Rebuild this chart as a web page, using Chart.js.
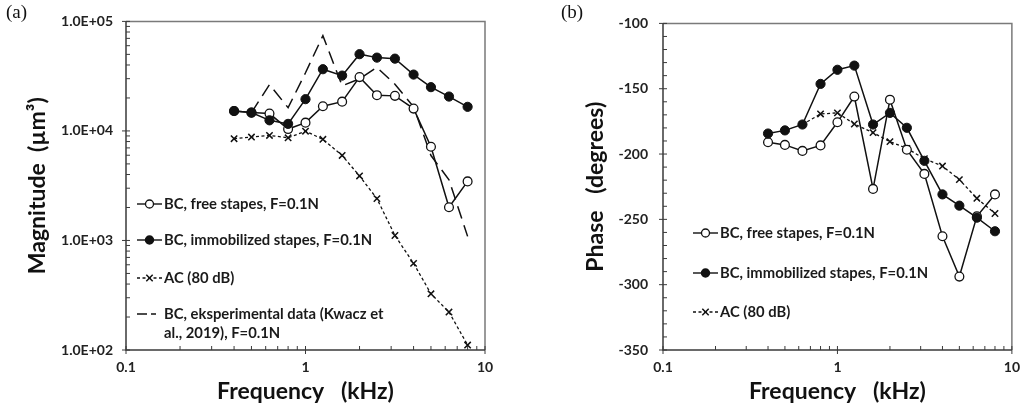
<!DOCTYPE html>
<html><head><meta charset="utf-8">
<script src="https://cdn.jsdelivr.net/npm/chart.js@4.4.1/dist/chart.umd.min.js"></script>
<style>
body{margin:0;background:#fff;width:1029px;height:412px;overflow:hidden;position:relative;}
canvas{position:absolute;top:0}
#ca{left:0}
#cb{left:510px}
.lab{position:absolute;font-family:'Liberation Serif';font-size:19px;top:1px;color:#111}
</style></head><body>
<canvas id="ca" width="510" height="412"></canvas>
<canvas id="cb" width="519" height="412"></canvas>
<div class="lab" style="left:6px">(a)</div>
<div class="lab" style="left:561px">(b)</div>
<script>
// ---------- data ----------
const freq = [0.4, 0.5, 0.63, 0.8, 1.0, 1.25, 1.6, 2.0, 2.5, 3.15, 4.0, 5.0, 6.3, 8.0];
const magFree  = [15200, 14700, 14400, 10400, 11900, 16800, 18500, 31000, 21200, 20900, 16000, 7170, 2010, 3460];
const magImmob = [15200, 14700, 12500, 11600, 19500, 36600, 32000, 50200, 46700, 45700, 32700, 25100, 20600, 16600];
const magAC    = [8490, 8790, 9100, 8660, 9940, 8390, 5970, 3880, 2410, 1110, 618, 326, 222, 111];
const expFreq  = [0.5, 0.63, 0.8, 1.0, 1.25, 1.6, 2.0, 2.5, 3.15, 4.0, 5.0, 6.3, 8.0];
const magExp   = [14700, 26500, 16300, 34000, 74100, 25800, 29900, 38000, 26700, 16600, 5960, 3580, 1090];

const phaseFree  = [-191, -193, -197.6, -193.4, -175.7, -156, -226.7, -158.4, -196.7, -215.2, -262.9, -293.8, -247.7, -230.9];
const phaseImmob = [-184.3, -181.9, -177.4, -146.3, -135.5, -132.3, -177.4, -168.5, -179.9, -205.2, -230.9, -239.5, -248.7, -259.1];
const acPhaseFreq = [0.63, 0.8, 1.0, 1.25, 1.6, 2.0, 2.5, 3.15, 4.0, 5.0, 6.3, 8.0];
const phaseAC    = [-177.4, -169.3, -168.5, -177, -183.6, -190.5, -195.7, -203.6, -209.2, -219.6, -233.9, -245.5];

const magTicks = [100, 1000, 10000, 100000];
const magTickLabels = ['1.0E+02', '1.0E+03', '1.0E+04', '1.0E+05'];
const freqTicks = [0.1, 1, 10];
const freqTickLabels = ['0.1', '1', '10'];
const phaseTicks = [-350, -300, -250, -200, -150, -100];

const labelFree = 'BC, free stapes, F=0.1N';
const labelImmob = 'BC, immobilized stapes, F=0.1N';
const labelAC = 'AC (80 dB)';
const labelExp = ['BC, eksperimental data (Kwacz et', 'al., 2019), F=0.1N'];

// ---------- helpers ----------
const pts = (xs, ys) => xs.map((x, i) => ({x, y: ys[i]}));
const INK = '#111';
const tickFont = {family: 'Lato', weight: 'bold', size: 14};
const titleFont = {family: 'Lato', weight: 'bold', size: 23};

function logMinor(min, max) {
  const out = [];
  for (let d = min; d < max; d *= 10) for (let k = 2; k <= 9; k++) out.push(d * k);
  return out;
}

function styleFor(kind) {
  const base = {borderColor: INK, borderWidth: 1.5, tension: 0, fill: false, pointHoverRadius: 0};
  if (kind === 'filled') return {...base, pointStyle: 'circle', pointRadius: 4.6, pointBackgroundColor: INK, pointBorderColor: INK, pointBorderWidth: 1};
  if (kind === 'open') return {...base, pointStyle: 'circle', pointRadius: 4.4, pointBackgroundColor: '#fff', pointBorderColor: INK, pointBorderWidth: 1.3};
  if (kind === 'cross') return {...base, borderWidth: 1.3, borderDash: [3, 2.5], pointStyle: 'crossRot', pointRadius: 4.5, pointBorderColor: INK, pointBorderWidth: 1.5};
  return {...base, borderDash: [13, 7], pointRadius: 0};
}

function drawMarker(ctx, kind, x, y) {
  ctx.save();
  ctx.setLineDash([]);
  ctx.strokeStyle = INK; ctx.fillStyle = INK;
  if (kind === 'filled' || kind === 'open') {
    ctx.beginPath(); ctx.arc(x, y, 4, 0, Math.PI * 2);
    if (kind === 'open') { ctx.fillStyle = '#fff'; ctx.lineWidth = 1.3; }
    ctx.fill(); ctx.stroke();
  } else if (kind === 'cross') {
    const r = 3.2; ctx.lineWidth = 1.5;
    ctx.beginPath(); ctx.moveTo(x - r, y - r); ctx.lineTo(x + r, y + r);
    ctx.moveTo(x - r, y + r); ctx.lineTo(x + r, y - r); ctx.stroke();
  }
  ctx.restore();
}

const framePlugin = {
  id: 'frame',
  beforeDatasetsDraw(chart, args, o) {
    const {ctx, chartArea: {left, right, top, bottom}} = chart;
    const xs = chart.scales.x, ys = chart.scales.y;
    ctx.save();
    ctx.lineWidth = 1.5;
    ctx.strokeStyle = '#7a7a7a';
    ctx.beginPath(); ctx.moveTo(left, top); ctx.lineTo(right, top); ctx.lineTo(right, bottom); ctx.stroke();
    ctx.strokeStyle = '#3a3a3a';
    ctx.beginPath(); ctx.moveTo(left, top); ctx.lineTo(left, bottom); ctx.lineTo(right, bottom); ctx.stroke();
    ctx.lineWidth = 1;
    const seg = (a, b, c, d) => { ctx.beginPath(); ctx.moveTo(a, b); ctx.lineTo(c, d); ctx.stroke(); };
    o.xMajor.forEach(v => { const p = xs.getPixelForValue(v); seg(p, bottom - 4, p, bottom + 4); });
    o.xMinor.forEach(v => { const p = xs.getPixelForValue(v); seg(p, bottom - 4, p, bottom); });
    o.yMajor.forEach(v => { const p = ys.getPixelForValue(v); seg(left - 4, p, left + 4, p); });
    o.yMinor.forEach(v => { const p = ys.getPixelForValue(v); seg(left, p, left + 4, p); });
    ctx.restore();
  },
  afterDatasetsDraw(chart, args, o) {
    const {ctx} = chart;
    ctx.save();
    ctx.font = 'bold 14.8px Lato';
    ctx.fillStyle = '#1a1a1a';
    ctx.textBaseline = 'middle';
    o.legend.forEach(it => {
      const x0 = o.legendX, x1 = o.legendX + 25, y = it.y;
      ctx.strokeStyle = INK; ctx.lineWidth = 1.4;
      if (it.kind === 'cross') ctx.setLineDash([3, 2.5]);
      else if (it.kind === 'dash') ctx.setLineDash([10, 4, 5, 40]);
      else ctx.setLineDash([]);
      ctx.beginPath(); ctx.moveTo(x0, y); ctx.lineTo(x1, y); ctx.stroke();
      ctx.setLineDash([]);
      drawMarker(ctx, it.kind, (x0 + x1) / 2, y);
      const lines = Array.isArray(it.text) ? it.text : [it.text];
      lines.forEach((t, i) => ctx.fillText(t, x1 + 2, y + i * 19));
    });
    ctx.restore();
  }
};

function makeChart(id, cfg) {
  return new Chart(document.getElementById(id), {
    type: 'line',
    data: {datasets: cfg.datasets},
    plugins: [framePlugin],
    options: {
      responsive: false, animation: false, events: [],
      layout: {padding: {left: 0, top: 12, right: cfg.padRight, bottom: 0}},
      plugins: {legend: {display: false}, tooltip: {enabled: false}, frame: cfg.frame},
      scales: {
        x: {
          type: 'logarithmic', min: 0.1, max: 10,
          grid: {display: false, drawTicks: false}, border: {display: false},
          afterBuildTicks: s => { s.ticks = freqTicks.map(v => ({value: v})); },
          afterFit: s => { s.height = 62; },
          ticks: {font: tickFont, color: '#222', padding: 9, maxRotation: 0, autoSkip: false,
                  callback: v => freqTickLabels[freqTicks.indexOf(v)]},
          title: {display: true, text: 'Frequency   (kHz)', font: titleFont, color: INK, padding: {top: 0, bottom: 7}}
        },
        y: cfg.y
      }
    }
  });
}

// ---------- panel (a) ----------
makeChart('ca', {
  padRight: 25,
  datasets: [
    {label: labelImmob, data: pts(freq, magImmob), ...styleFor('filled')},
    {label: labelFree, data: pts(freq, magFree), ...styleFor('open')},
    {label: labelAC, data: pts(freq, magAC), ...styleFor('cross')},
    {label: labelExp.join(' '), data: pts(expFreq, magExp), ...styleFor('dash')}
  ],
  y: {
    type: 'logarithmic', min: 100, max: 100000,
    grid: {display: false, drawTicks: false}, border: {display: false},
    afterBuildTicks: s => { s.ticks = magTicks.map(v => ({value: v})); },
    afterFit: s => { s.width = 126; },
    ticks: {font: tickFont, color: '#222', padding: 13, autoSkip: false,
            callback: v => magTickLabels[magTicks.indexOf(v)]},
    title: {display: true, text: 'Magnitude  (\u00b5m\u00b3)', font: titleFont, color: INK, padding: {top: 24, bottom: 0}}
  },
  frame: {
    xMajor: freqTicks, xMinor: logMinor(0.1, 10),
    yMajor: magTicks, yMinor: logMinor(100, 100000),
    legendX: 137,
    legend: [
      {kind: 'open', text: labelFree, y: 204},
      {kind: 'filled', text: labelImmob, y: 240},
      {kind: 'cross', text: labelAC, y: 278},
      {kind: 'dash', text: labelExp, y: 314}
    ]
  }
});

// ---------- panel (b) ----------
const phaseMinor = [];
for (let v = -340; v < -100; v += 10) if (v % 50 !== 0) phaseMinor.push(v);

makeChart('cb', {
  padRight: 11,
  datasets: [
    {label: labelImmob, data: pts(freq, phaseImmob), ...styleFor('filled')},
    {label: labelFree, data: pts(freq, phaseFree), ...styleFor('open')},
    {label: labelAC, data: pts(acPhaseFreq, phaseAC), ...styleFor('cross')}
  ],
  y: {
    type: 'linear', min: -350, max: -100,
    grid: {display: false, drawTicks: false}, border: {display: false},
    afterBuildTicks: s => { s.ticks = phaseTicks.map(v => ({value: v})); },
    afterFit: s => { s.width = 153; },
    ticks: {font: tickFont, color: '#222', padding: 15, autoSkip: false},
    title: {display: true, text: 'Phase   (degrees)', font: titleFont, color: INK, padding: {top: 72, bottom: 0}}
  },
  frame: {
    xMajor: freqTicks, xMinor: logMinor(0.1, 10),
    yMajor: phaseTicks, yMinor: phaseMinor,
    legendX: 183,
    legend: [
      {kind: 'open', text: labelFree, y: 233},
      {kind: 'filled', text: labelImmob, y: 273},
      {kind: 'cross', text: labelAC, y: 312}
    ]
  }
});
</script>
</body></html>
